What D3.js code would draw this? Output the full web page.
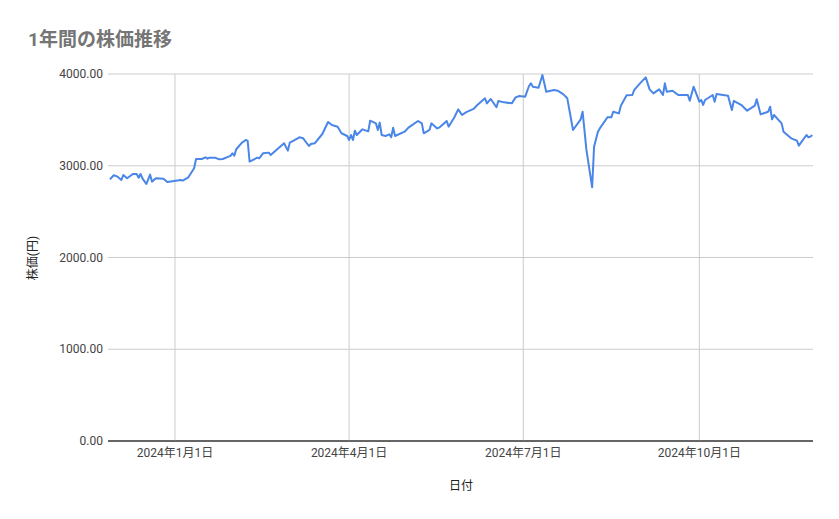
<!DOCTYPE html>
<html><head><meta charset="utf-8">
<script src="https://cdn.jsdelivr.net/npm/d3@7"></script>
<style>body{margin:0;background:#fff}svg{font-family:Roboto,"Noto Sans CJK JP",sans-serif}</style>
</head><body><svg id="c" width="839" height="519"></svg>
<script>
const startDate = "2023-11-27";
const dayOffsets = [1,3,5,7,8,10,13,15,16,17,18,20,22,23,25,29,31,38,39,42,45,46,49,51,52,53,56,58,60,63,64,65,66,67,70,72,73,74,78,79,81,84,85,92,94,95,97,100,102,105,106,108,112,115,117,120,122,125,126,127,128,129,130,133,136,137,140,141,142,143,145,147,148,149,150,155,157,162,164,165,168,169,172,173,177,178,181,183,185,187,191,193,197,198,200,203,204,207,211,213,215,218,220,221,222,225,227,229,233,235,238,240,243,247,248,250,253,254,256,257,261,263,264,267,268,271,274,275,278,281,283,285,288,290,291,292,295,298,303,304,306,309,310,311,312,316,317,318,324,326,327,331,334,338,339,341,345,346,347,348,352,353,357,360,361,365,366,367,368];
const prices = [2852,2896,2881,2845,2899,2863,2910,2910,2870,2910,2863,2801,2903,2827,2863,2859,2823,2845,2838,2874,2972,3074,3074,3092,3077,3088,3088,3070,3074,3099,3107,3136,3110,3180,3252,3281,3270,3045,3088,3081,3136,3143,3118,3245,3165,3252,3274,3310,3299,3215,3237,3245,3346,3477,3444,3426,3354,3324,3281,3335,3281,3382,3335,3397,3375,3491,3462,3390,3470,3335,3324,3342,3310,3415,3324,3371,3415,3488,3462,3354,3390,3462,3407,3415,3488,3426,3528,3615,3553,3582,3619,3662,3735,3680,3728,3637,3706,3691,3680,3745,3760,3753,3869,3898,3862,3851,3989,3807,3826,3818,3778,3735,3390,3506,3589,3172,2765,3208,3371,3407,3528,3528,3589,3571,3655,3768,3771,3826,3898,3963,3833,3789,3833,3771,3898,3807,3818,3771,3771,3709,3862,3698,3717,3662,3717,3771,3698,3782,3764,3608,3706,3662,3600,3655,3724,3560,3589,3644,3506,3553,3462,3371,3299,3274,3219,3335,3310,3317,3335];
const yTicks = [0,1000,2000,3000,4000];
const xTickDates = ["2024-01-01","2024-04-01","2024-07-01","2024-10-01"];
const xTickLabels = ["2024年1月1日","2024年4月1日","2024年7月1日","2024年10月1日"];

const svg = d3.select("#c");
const start = new Date(startDate+"T00:00:00");
const data = dayOffsets.map((d,i)=>({date:d3.timeDay.offset(start,d),v:prices[i]}));
const L=108,R=813,T=74,B=441;
const x = d3.scaleTime().domain([start, new Date(start.getTime()+368.4*864e5)]).range([L,R]);
const y = d3.scaleLinear().domain([0,4000]).range([B,T]);
const xd = xTickDates.map(s=>new Date(s+"T00:00:00"));

svg.append("text").attr("x",28).attr("y",46).attr("fill","#757575").attr("font-size",19).attr("font-weight","bold").text("1年間の株価推移");

const gy = svg.append("g");
yTicks.forEach(t=>{
  gy.append("line").attr("x1",L).attr("x2",R).attr("y1",y(t)).attr("y2",y(t)).attr("stroke",t===0?"#333":"#ccc").attr("stroke-width",1);
  gy.append("text").attr("x",L-5).attr("y",y(t)+4).attr("text-anchor","end").attr("font-size",12).attr("fill","#444").text(d3.format(".2f")(t));
});
xd.forEach((d,i)=>{
  svg.append("line").attr("x1",x(d)).attr("x2",x(d)).attr("y1",T).attr("y2",B).attr("stroke","#ccc");
  svg.append("text").attr("x",x(d)).attr("y",457).attr("text-anchor","middle").attr("font-size",12).attr("fill","#444").text(xTickLabels[i]);
});
svg.append("line").attr("x1",L).attr("x2",R).attr("y1",B).attr("y2",B).attr("stroke","#333");

svg.append("path").datum(data).attr("fill","none").attr("stroke","#4a86e8").attr("stroke-width",2).attr("stroke-linejoin","round")
  .attr("d",d3.line().x(d=>x(d.date)).y(d=>y(d.v)));

svg.append("text").attr("x",461).attr("y",490).attr("text-anchor","middle").attr("font-size",12).attr("fill","#222").text("日付");
svg.append("text").attr("transform","translate(37,258) rotate(-90)").attr("text-anchor","middle").attr("font-size",12).attr("fill","#222").text("株価(円)");
</script></body></html>
